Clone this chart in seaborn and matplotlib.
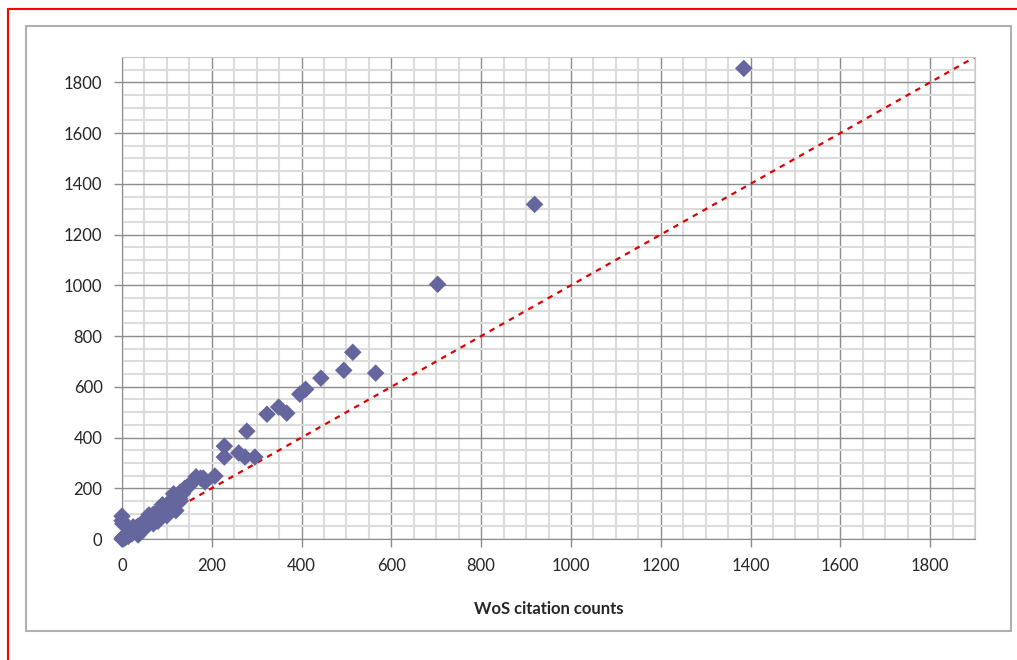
import numpy as np
import pandas as pd
import matplotlib
matplotlib.use("Agg")
import matplotlib.pyplot as plt
import seaborn as sns
from matplotlib.patches import Rectangle
from matplotlib.lines import Line2D
from matplotlib.ticker import MultipleLocator

# WoS citation counts (x) vs other database counts (y)
wos = [0, 1, 2, 3, 4, 5, 0, 0, 2, 6, 8, 10, 12, 14, 15, 18, 20, 22, 25, 28,
       30, 32, 35, 36, 38, 40, 42, 45, 48, 50, 55, 58, 60, 65, 68, 70, 75, 78,
       80, 85, 88, 90, 95, 98, 100, 105, 108, 110, 115, 118, 120, 125, 128,
       130, 135, 138, 140, 145, 150, 160, 165, 175, 185, 130, 110, 60, 40,
       45, 70, 100, 120, 60, 90, 115, 25, 80,
       181, 207, 228, 228, 260, 274, 296, 278, 323, 349, 367, 396, 409, 443,
       494, 514, 565, 703, 919, 1385]
other = [0, 2, 5, 1, 8, 3, 90, 72, 60, 12, 6, 15, 18, 10, 25, 22, 30, 20, 35, 30,
         42, 38, 50, 16, 45, 55, 48, 62, 58, 70, 66, 80, 75, 85, 90, 98, 92, 105,
         100, 115, 110, 122, 118, 130, 135, 128, 145, 140, 155, 150, 165, 170, 160,
         185, 180, 195, 200, 205, 210, 230, 245, 240, 225, 150, 120, 60, 40,
         32, 60, 92, 112, 95, 135, 178, 48, 70,
         240, 248, 366, 323, 339, 323, 323, 425, 492, 520, 496, 571, 590, 634,
         665, 736, 654, 1004, 1319, 1855]

ref_line = [0, 1900]
x_ticks = [0, 200, 400, 600, 800, 1000, 1200, 1400, 1600, 1800]

df = pd.DataFrame({"wos": wos, "other": other})

sns.set_style("white")
plt.rcParams["font.family"] = ["Lato", "DejaVu Sans"]

fig = plt.figure(figsize=(10.17, 6.6), dpi=100)
ax = fig.add_axes([122 / 1017, 1 - 539 / 660, (975 - 122) / 1017, (539 - 57) / 660])

# outer frames
fig.patches.append(Rectangle((26 / 1017, 1 - 631 / 660), (1011 - 26) / 1017, (631 - 26) / 660,
                             transform=fig.transFigure, fill=False, edgecolor="#b0b0b0", linewidth=1.5))
fig.lines.append(Line2D([8 / 1017, 8 / 1017], [0, 1 - 9 / 660], transform=fig.transFigure,
                        color="red", linewidth=1.5))
fig.lines.append(Line2D([8 / 1017, 1], [1 - 9 / 660, 1 - 9 / 660], transform=fig.transFigure,
                        color="red", linewidth=1.5))

ax.plot(ref_line, ref_line, color="#e00000", linestyle=(0, (2.5, 2.5)), linewidth=1.6, zorder=2)
sns.scatterplot(data=df, x="wos", y="other", marker="D", s=80, color="#65669e",
                edgecolor="none", ax=ax, zorder=3, clip_on=False)

ax.set_xlim(0, 1900)
ax.set_ylim(0, 1900)
ax.set_xticks(x_ticks)
ax.set_yticks(x_ticks)
ax.xaxis.set_minor_locator(MultipleLocator(50))
ax.yaxis.set_minor_locator(MultipleLocator(50))
ax.grid(which="major", color="#8c8c8c", linewidth=1.0, zorder=0)
ax.grid(which="minor", color="#dcdcdc", linewidth=1.5, zorder=0)
ax.set_axisbelow(True)

for side in ["top", "right"]:
    ax.spines[side].set_color("#c8c8c8")
for side in ["left", "bottom"]:
    ax.spines[side].set_color("#8c8c8c")

ax.tick_params(which="major", direction="out", length=6, width=1, color="#8c8c8c",
               labelsize=12, pad=8, left=True, bottom=True)
ax.tick_params(which="minor", length=0)

ax.set_xlabel("WoS citation counts", fontsize=12, fontweight="bold", labelpad=19)
ax.set_ylabel("")

fig.savefig("out.png", dpi=100)
